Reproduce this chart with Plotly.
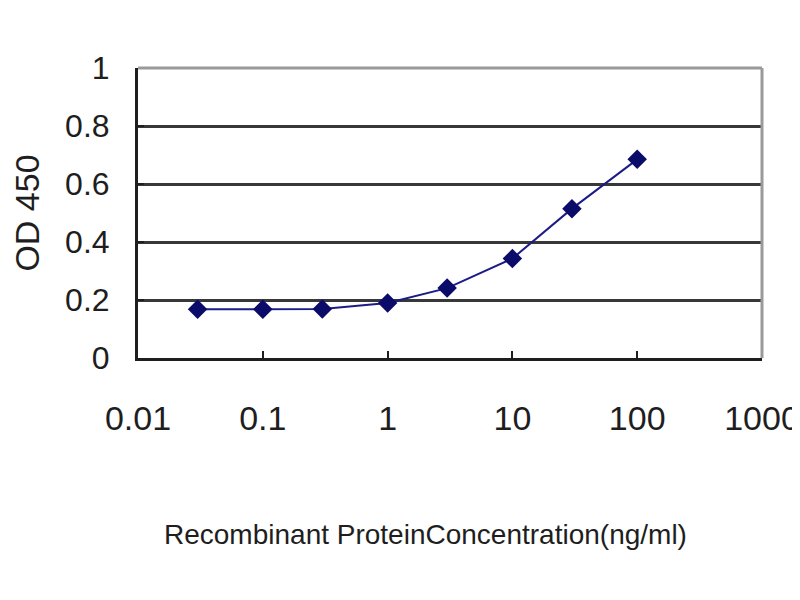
import plotly.graph_objects as go

concentration = [0.03, 0.1, 0.3, 1, 3, 10, 30, 100]
od450 = [0.168, 0.168, 0.169, 0.19, 0.241, 0.343, 0.515, 0.685]

x_ticks = [0.01, 0.1, 1, 10, 100, 1000]
x_tick_labels = ["0.01", "0.1", "1", "10", "100", "1000"]
y_ticks = [0, 0.2, 0.4, 0.6, 0.8, 1]
y_tick_labels = ["0", "0.2", "0.4", "0.6", "0.8", "1"]
x_title = "Recombinant ProteinConcentration(ng/ml)"
y_title = "OD 450"

regular = "Liberation Sans, Arial, sans-serif"
ink = "#1e1e1e"

fig = go.Figure()
fig.add_trace(go.Scatter(
    x=concentration, y=od450, mode="lines+markers",
    line=dict(color="#1c1c86", width=2),
    marker=dict(symbol="diamond", size=15, color="#0b0b6a"),
    showlegend=False,
))

fig.update_layout(
    width=800, height=600,
    margin=dict(l=130, r=46, t=60, b=250),
    paper_bgcolor="white", plot_bgcolor="white",
    font=dict(family=regular, color=ink),
    xaxis=dict(
        type="log", range=[-2, 3], automargin=False,
        tickvals=x_ticks, ticktext=x_tick_labels,
        tickfont=dict(family=regular, size=34, color=ink),
        ticks="inside", ticklen=7, tickcolor=ink, tickwidth=2,
        showline=True, linecolor=ink, linewidth=3, mirror=False,
        showgrid=False, zeroline=False,
        ticklabelstandoff=28,
    ),
    yaxis=dict(
        range=[0, 1], automargin=False,
        tickvals=y_ticks, ticktext=y_tick_labels,
        tickfont=dict(family=regular, size=32, color=ink),
        ticks="inside", ticklen=6, tickcolor=ink, tickwidth=2,
        showline=True, linecolor=ink, linewidth=3,
        showgrid=True, gridcolor="#383838", gridwidth=3,
        zeroline=False,
        ticklabelstandoff=19,
        title=dict(text=y_title, font=dict(family=regular, size=34, color=ink), standoff=25),
    ),
    annotations=[
        dict(text=x_title, xref="paper", yref="paper", x=0.4615, y=-0.61,
             xanchor="center", yanchor="middle", showarrow=False,
             font=dict(family=regular, size=28, color=ink)),
    ],
    shapes=[
        dict(type="line", xref="paper", yref="paper", x0=0, x1=1, y0=1, y1=1,
             line=dict(color="#9a9a9a", width=3)),
        dict(type="line", xref="paper", yref="paper", x0=1, x1=1, y0=0, y1=1,
             line=dict(color="#9a9a9a", width=3)),
    ],
)

fig.write_html("out.html")
